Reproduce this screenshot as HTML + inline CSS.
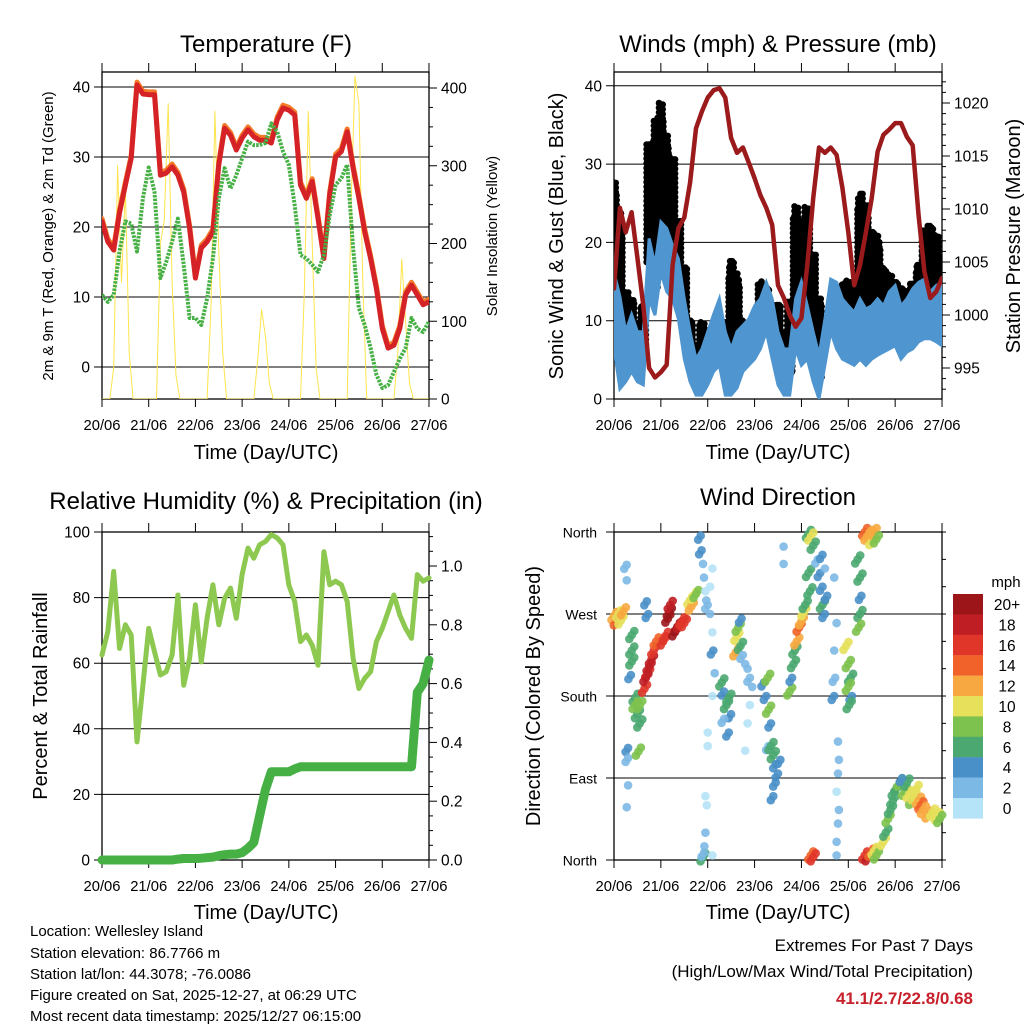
<!DOCTYPE html>
<html><head><meta charset="utf-8">
<style>
html,body{margin:0;padding:0;background:#fff;}
svg{display:block;font-family:"Liberation Sans",Arial,sans-serif;}
</style></head>
<body>
<svg id="svg" width="1024" height="1024" viewBox="0 0 1024 1024">
<rect x="0" y="0" width="1024" height="1024" fill="#fff"/>
<text x="266" y="52" font-size="24" text-anchor="middle">Temperature (F)</text>
<text x="778" y="52" font-size="24" text-anchor="middle">Winds (mph) &amp; Pressure (mb)</text>
<text x="266" y="509" font-size="24" text-anchor="middle">Relative Humidity (%) &amp; Precipitation (in)</text>
<text x="778" y="505" font-size="24" text-anchor="middle">Wind Direction</text>

<text x="266" y="459" font-size="20" text-anchor="middle">Time (Day/UTC)</text>
<text x="778" y="459" font-size="20" text-anchor="middle">Time (Day/UTC)</text>
<text x="266" y="919" font-size="20" text-anchor="middle">Time (Day/UTC)</text>
<text x="778" y="919" font-size="20" text-anchor="middle">Time (Day/UTC)</text>

<text transform="translate(53,236) rotate(-90)" font-size="15" text-anchor="middle">2m &amp; 9m T (Red, Orange) &amp; 2m Td (Green)</text>
<text transform="translate(497,236) rotate(-90)" font-size="15" text-anchor="middle">Solar Insolation (Yellow)</text>
<text transform="translate(563,236) rotate(-90)" font-size="20" text-anchor="middle">Sonic Wind &amp; Gust (Blue, Black)</text>
<text transform="translate(1020,236) rotate(-90)" font-size="20" text-anchor="middle">Station Pressure (Maroon)</text>
<text transform="translate(47,696) rotate(-90)" font-size="20" text-anchor="middle">Percent &amp; Total Rainfall</text>
<text transform="translate(540,696) rotate(-90)" font-size="20" text-anchor="middle">Direction (Colored By Speed)</text>

<g font-size="15">
<text x="30" y="936">Location: Wellesley Island</text>
<text x="30" y="958">Station elevation: 86.7766 m</text>
<text x="30" y="979">Station lat/lon: 44.3078; -76.0086</text>
<text x="30" y="1000">Figure created on Sat, 2025-12-27, at 06:29 UTC</text>
<text x="30" y="1021">Most recent data timestamp: 2025/12/27 06:15:00</text>
</g>
<text x="973" y="951" font-size="17" text-anchor="end">Extremes For Past 7 Days</text>
<text x="973" y="977" font-size="17" text-anchor="end">(High/Low/Max Wind/Total Precipitation)</text>
<text x="973" y="1004" font-size="17" font-weight="bold" fill="#c8202a" text-anchor="end">41.1/2.7/22.8/0.68</text>
</svg>
<script>
// ---------- data (3-hour steps, day 0 = 20/06) ----------
const dayLabels = ["20/06","21/06","22/06","23/06","24/06","25/06","26/06","27/06"];
const tempT = [20.8,17.9,16.7,22,26,29.8,40.3,39,38.9,38.9,27.4,27.7,28.6,27.4,25,19.8,12.7,17,17.9,19.3,28.9,34.1,33.1,31,32.7,33.9,32.9,32.4,32.4,32,35.3,37,36.7,36,26,24.1,26.5,21.2,15.5,24.6,30,30.8,33.6,28.4,24.1,19.3,15.5,11.2,5.5,2.7,3.1,5.5,10.3,11.7,10.3,8.9,9.3];
const tempTd = [10.3,9.3,10.3,16.5,20.8,20.5,16.5,24.1,28.5,25,12.7,15,17.9,21.2,14.6,7,7,6,9.8,15.5,24.1,28.4,25.5,27.4,29.8,32.2,31.7,31.7,32,34.8,33.6,30.8,28.9,23.1,16,15.5,14.6,13.6,16,21.7,26,27,28.9,17,8.4,6,2.7,-1.1,-3,-2.6,-0.7,1.2,2.7,7,5.5,5,6.5];
// solar, 2-hour steps
const solar = [0,0,0,40,300,150,270,60,0,0,0,0, 0,0,0,200,230,380,150,30,0,0,0,0, 0,0,0,0,120,370,190,60,0,0,0,0, 0,0,0,0,50,115,80,20,0,0,0,0, 0,0,0,0,140,370,200,40,0,0,0,0, 0,0,0,0,250,415,380,150,0,0,0,0, 0,0,0,0,60,180,100,20,0,0,0,0, 0];
const pressure = [1002.5,1010.1,1007.8,1009.7,1005.4,1000.9,995,994.1,994.6,995.3,1004.7,1008.2,1009.2,1012.5,1017.6,1019.2,1020.5,1021.2,1021.4,1020.5,1016.7,1015.3,1015.8,1014.4,1012.9,1011.3,1010.1,1008.5,1002.8,1001.6,1000,998.9,999.7,1004.7,1011,1015.8,1015.3,1015.8,1015.1,1012,1007.8,1002.8,1004.7,1007.8,1011,1015.4,1017,1017.5,1018.1,1018.1,1016.8,1016,1009.4,1004.1,1001.6,1002.2,1003.5];
const windHi = [16.2,13.1,8.6,10.8,8.6,8.6,20.5,17.1,22.6,21.8,19.6,17.9,12.8,8.6,5.1,6.4,8.6,10.8,12.8,8.6,6.4,8.6,9.4,10.2,11.9,12.8,14.9,12.8,8.6,6.4,6.4,12.8,15,11.9,8.6,5.6,10.2,15.3,14.9,12.8,11.9,11.1,12.8,11.5,11.9,12.8,11.9,13.7,14.5,11.9,12.8,14.1,14.9,15.3,13.7,14.5,14.9];
const windLo = [6.5,1.3,2.2,3.5,2.2,1.8,12.8,10.7,16.2,13.7,12.8,10.2,5.1,2.2,0.5,0.5,1.8,3.5,4.3,0.5,0.5,1.4,3.5,4.3,5.1,6.4,8.6,5.1,1.8,0.5,0.5,6.4,4.3,5.1,2.2,0,4.3,8.6,6.4,5.1,4.7,4.3,5.1,4.3,5.1,5.6,6,6.4,6.8,5.1,6,6.4,7.3,7.7,7.7,7.3,6.8];
const gustMax = [28,24,14,13,10,12,33,36,38,34,31,23,17,10,7,10,8,9,9,10,18,16,10,9,10,15,14,12,12,8.6,12.8,25,23,24.6,18.7,12.8,5.6,7,7.7,14.9,15.3,14,26.4,25,21.7,21,17,16.2,15,14.5,14,15,17.1,21.7,22.6,21,18];
const rh = [62.5,69.6,88,64.5,71.7,68.6,36,53.3,70.6,63.5,56.4,57.4,62.5,80.8,53.3,61.5,77.8,60.4,73.7,83.9,71.7,79.8,82.9,73.7,87,95.1,92,96.1,97.1,99.2,98.2,96.1,83.9,78.8,66.6,68.6,65.5,59.4,94,83.9,85,83.9,78.8,61.5,52.3,55.4,57.4,66.6,70.6,75.7,80.8,74.7,70.6,67.6,87,85,86];
const precip = [0,0,0,0,0,0,0,0,0,0,0,0,0,0.003,0.005,0.005,0.005,0.006,0.008,0.01,0.015,0.018,0.02,0.02,0.025,0.04,0.06,0.15,0.24,0.3,0.3,0.3,0.3,0.31,0.317,0.317,0.317,0.317,0.317,0.317,0.317,0.317,0.317,0.317,0.317,0.317,0.317,0.317,0.317,0.317,0.317,0.317,0.317,0.317,0.57,0.6,0.68];
// wind direction points: time (days), direction (deg), speed (mph)
const dirTime = [0,0.05,0.1,0.15,0.2,0.27,0.27,0.38,0.38,0.38,0.36,0.45,0.45,0.5,0.55,0.3,0.3,0.3,0.27,0.52,0.55,0.65,0.72,0.8,0.85,0.9,0.75,0.68,1.05,1.1,1.15,1.18,1.2,1.3,1.35,1.4,1.45,1.5,1.62,1.65,1.7,1.75,0.7,0.73,1.85,1.87,1.9,1.92,1.95,1.97,2.0,2.05,2.1,2.05,2.1,2.12,2.15,2.1,2.0,2.0,1.95,1.98,1.95,1.93,1.9,1.92,2.1,2.3,2.35,2.4,2.45,2.5,2.35,2.45,2.62,2.6,2.65,2.7,2.72,2.75,2.8,2.85,2.9,2.95,2.9,2.85,2.8,3.2,3.25,3.3,3.28,3.35,3.3,3.35,3.4,3.45,3.5,3.45,3.55,3.4,3.62,3.62,3.75,3.8,3.83,3.86,3.9,3.95,4.0,4.05,4.08,4.15,4.2,4.25,4.15,4.18,4.2,4.25,4.35,4.4,4.45,4.45,4.5,4.55,4.5,4.45,4.7,4.75,4.7,4.72,4.7,4.78,4.8,4.78,4.75,4.8,4.78,4.75,4.75,4.95,5.0,5.05,5.0,5.08,5.02,5.2,5.25,5.28,5.25,5.22,5.35,5.4,5.45,5.5,5.55,5.6,5.35,5.42,5.48,5.55,5.6,5.75,5.8,5.85,5.9,5.95,5.98,6.05,6.1,6.2,6.3,6.35,6.4,6.5,6.55,6.6,6.7,6.8,6.9,6.95,6.25,6.15,6.45];
const dirDeg = [268,262,270,263,273,324,307,247,230,218,203,178,170,160,150,123,112,82,58,119,170,188,205,220,230,240,212,200,240,246,265,272,280,250,256,258,262,260,285,278,290,292,284,270,356,340,325,310,295,285,280,300,320,270,250,230,205,180,140,125,70,60,30,15,3,8,5,195,185,170,178,160,155,140,245,228,255,235,265,225,215,210,200,190,170,150,120,195,180,165,200,150,125,125,115,105,95,85,110,70,344,325,185,200,215,230,240,255,262,272,280,358,355,345,315,295,5,3,330,315,300,280,270,290,320,335,310,260,230,200,180,130,110,95,75,55,40,20,5,235,215,200,190,180,170,330,310,290,270,255,360,355,358,350,360,352,5,3,8,10,5,20,30,45,55,65,75,80,85,75,72,65,70,65,60,55,50,52,48,45,85,90,78];
const dirSpeed = [13,14,11,10,12,3,2,6,6,7,4,6,9,7,6,4,3,2,2,8,9,17,16,18,16,15,19,18,16,17,20,20,19,20,20,18,17,16,10,12,11,8,4,4,5,4,2,2,1,2,3,1,1,2,1,4,2,1,1,1,1,1,2,2,6,3,1,6,5,6,7,4,3,4,10,12,8,6,4,3,2,2,3,2,1,1,1,4,4,8,8,5,3,7,6,5,4,4,4,4,2,2,8,5,6,7,13,14,12,10,7,7,10,6,6,6,14,16,3,4,4,6,4,5,2,4,2,2,2,3,4,2,2,2,1,2,2,2,2,10,8,6,8,4,7,6,7,5,6,8,14,12,13,10,12,9,16,18,14,10,8,10,6,8,6,6,7,6,8,9,10,8,11,12,14,12,13,11,10,9,6,4,10];
const speedLabels = ["20+","18","16","14","12","10","8","6","4","2","0"];
const speedColors = ["#9b1519","#bf1e25","#e0362a","#f0622a","#f7a840","#e6e05a","#7dc24e","#4aa870","#4a90c8","#7db9e5","#b5e3f7"];

const NS="http://www.w3.org/2000/svg";
const svg=document.getElementById('svg');
function mk(tag,attrs,parent){const e=document.createElementNS(NS,tag);for(const k in attrs)e.setAttribute(k,attrs[k]);(parent||svg).appendChild(e);return e;}

const tx=d=>102+d*46.71;
const wx=d=>614+d*46.86;
const tY=v=>367-v*7;
const sY=v=>399-v*0.7775;
const wY=v=>399-v*7.83;
const pY=v=>315-(v-1000)*10.6;
const hY=v=>860-v*3.28;
const rY=v=>860-v*294;
const dY=v=>860-v*0.911;
const step=0.125;

function frame(x0,x1,y0,y1,name,xf){
  const g=mk('g',{});
  
  
  mk('rect',{x:x0,y:y0,width:x1-x0,height:y1-y0,fill:'none',stroke:'#000','stroke-width':1.3},g);
  for(let i=0;i<dayLabels.length;i++){
    const x=xf(i);
    mk('line',{x1:x,x2:x,y1:y1,y2:y1+8,stroke:'#000','stroke-width':1},g);
    mk('line',{x1:x,x2:x,y1:y0,y2:y0-9,stroke:'#000','stroke-width':1},g);
    const t=mk('text',{x:x,y:y1+31,'font-size':15,'text-anchor':'middle',textLength:37,lengthAdjust:'spacingAndGlyphs'},g);
    t.textContent=dayLabels[i];
    
    
  }
  return g;
}
function hgrid(g,x0,x1,y,len){mk('line',{x1:x0-len,x2:x1,y1:y,y2:y,stroke:'#000','stroke-width':1},g);}
function ltick(g,x,y,txt,fs){const t=mk('text',{x:x,y:y+5.5,'font-size':fs||15.5,'text-anchor':'end'},g);t.textContent=txt;}
function rtick(g,x,y,txt,major){mk('line',{x1:x,x2:x+(major?8:4),y1:y,y2:y,stroke:'#000','stroke-width':1},g);if(txt!==null){const t=mk('text',{x:x+12,y:y+5.5,'font-size':15.5},g);t.textContent=txt;}}
function poly(pts,attrs,name){const p=mk('polyline',Object.assign({points:pts.map(a=>a[0].toFixed(1)+','+a[1].toFixed(1)).join(' '),fill:'none','stroke-linejoin':'round','stroke-linecap':'round'},attrs));return p;}

// ---------- Panel 1: Temperature ----------
{
  const clip=mk('clipPath',{id:'c1'});mk('rect',{x:102,y:72,width:327,height:327},clip);
  const g=frame(102,429,72,399,'temperature',tx);
  [40,30,20,10,0].forEach(v=>{hgrid(g,102,429,tY(v),8);ltick(g,90,tY(v),String(v));});
  for(let v=0;v<=420;v+=25) rtick(g,429,sY(v),v%100===0?String(v):null,v%100===0);
  poly(solar.map((v,i)=>[tx(i/12),sY(v)]),{stroke:'#ffe44d','stroke-width':1,'clip-path':'url(#c1)'},'solar-line');
  poly(tempT.map((v,i)=>[tx(i*step),tY(v+0.4)]),{stroke:'#f47a2a','stroke-width':5,'clip-path':'url(#c1)'},'temp-9m-line');
  poly(tempT.map((v,i)=>[tx(i*step),tY(v)]),{stroke:'#d42227','stroke-width':5,'clip-path':'url(#c1)'},'temp-2m-line');
  poly(tempTd.map((v,i)=>[tx(i*step),tY(v)]),{stroke:'#46b045','stroke-width':4,'stroke-dasharray':'2.5 1.2','stroke-linecap':'butt','clip-path':'url(#c1)'},'dewpoint-line');
}
// ---------- Panel 2: Winds ----------
{
  const clip=mk('clipPath',{id:'c2'});mk('rect',{x:614,y:72,width:328,height:327},clip);
  const g=frame(614,942,72,399,'winds',wx);
  [40,30,20,10,0].forEach(v=>{hgrid(g,614,942,wY(v),8);ltick(g,602,wY(v),String(v));});
  for(let p=993;p<=1022;p++) rtick(g,942,pY(p),p%5===0?String(p):null,p%5===0);
  const gg=mk('g',{'clip-path':'url(#c2)'});
  
  
  const fr=[0.8,1.0,0.88,0.95,0.78,0.92,1.0,0.85];
  for(let i=0;i<gustMax.length;i++){
    for(let k=0;k<8;k++){
      const t=i*step+(k-3.5)*step/8;
      const top=windHi[i]+(gustMax[i]-windHi[i])*fr[(k+i)%8];
      for(let v=Math.max(windLo[i],windHi[i]-3)+(k%3)*0.2;v<=top;v+=0.6){
        mk('circle',{cx:wx(t).toFixed(1),cy:wY(v).toFixed(1),r:3.3,fill:'#000'},gg);
      }
    }
  }
  const band=windHi.map((v,i)=>[wx(i*step),wY(v)]).concat(windLo.map((v,i)=>[wx(i*step),wY(v)]).reverse());
  const bp=mk('polygon',{points:band.map(a=>a[0].toFixed(1)+','+a[1].toFixed(1)).join(' '),fill:'#4f96d0',stroke:'#4f96d0','stroke-width':3,'clip-path':'url(#c2)'});
  
  
  poly(pressure.map((v,i)=>[wx(i*step),pY(v)]),{stroke:'#9b1a1c','stroke-width':4.5,'clip-path':'url(#c2)'},'pressure-line');
}
// ---------- Panel 3: RH & precip ----------
{
  const g=frame(102,429,532,860,'humidity',tx);
  [100,80,60,40,20,0].forEach(v=>{hgrid(g,102,429,hY(v),8);ltick(g,90,hY(v),String(v));});
  for(let p=0;p<=1.1001;p+=0.05){const maj=Math.round(p*100)%20===0;rtick(g,429,rY(p),maj?p.toFixed(1):null,maj);}
  poly(rh.map((v,i)=>[tx(i*step),hY(v)]),{stroke:'#8dc850','stroke-width':5},'humidity-line');
  poly(precip.map((v,i)=>[tx(i*step),rY(v)]),{stroke:'#46b045','stroke-width':9},'precip-line');
}
// ---------- Panel 4: Wind direction ----------
{
  const g=frame(614,942,532,860,'wind-direction',wx);
  const names=["North","East","South","West","North"];
  [0,90,180,270,360].forEach((v,i)=>{hgrid(g,614,942,dY(v),8);ltick(g,597,dY(v),names[i],14);});
  for(let v=0;v<=360;v+=30) mk('line',{x1:942,x2:946,y1:dY(v),y2:dY(v),stroke:'#000','stroke-width':1},g);
  const pg=mk('g',{'fill-opacity':0.9});
  
  
  const offs=[[0,0],[-2.5,4],[2.5,-4]];
  for(let i=0;i<dirTime.length;i++){
    const s=dirSpeed[i];
    const bin=Math.min(10,Math.floor(s/2));
    const n=s>=6?3:(s>=3?2:1);
    for(let j=0;j<n;j++){
      const c=mk('circle',{cx:(wx(dirTime[i])+offs[j][0]).toFixed(1),cy:(dY(dirDeg[i])+offs[j][1]).toFixed(1),r:4.3,fill:speedColors[10-bin]},pg);
      
      
    }
  }
  const lg=mk('g',{});
  
  
  const mt=mk('text',{x:1006,y:587,'font-size':15,'text-anchor':'middle'},lg);mt.textContent='mph';
  for(let i=0;i<speedLabels.length;i++){
    const y=594+i*20.4;
    const r=mk('rect',{x:953,y:y,width:30,height:20.6,fill:speedColors[i]},lg);
    
    
    const t=mk('text',{x:1007,y:y+16,'font-size':15.5,'text-anchor':'middle'},lg);
    t.textContent=speedLabels[i];
    
    
  }
}
</script>
</body></html>
